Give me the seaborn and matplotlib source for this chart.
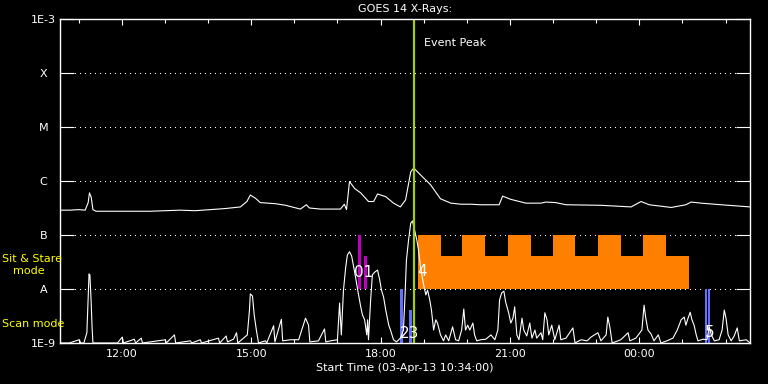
import matplotlib
matplotlib.use("Agg")
import matplotlib.pyplot as plt
import seaborn as sns

# GOES 14 long channel, log10(flux) + 9  (0 -> 1E-9 ... 6 -> 1E-3), time in UT hours
goes_time = [10.57, 10.80, 11.00, 11.15, 11.22, 11.25, 11.29, 11.33, 11.40, 11.80,
             12.20, 12.66, 13.00, 13.35, 13.70, 14.05, 14.40, 14.75, 14.90, 14.98,
             15.10, 15.21, 15.56, 15.80, 16.14, 16.28, 16.35, 16.61, 17.07, 17.16,
             17.21, 17.28, 17.40, 17.54, 17.72, 17.84, 17.93, 18.12, 18.30, 18.46,
             18.58, 18.70, 18.77, 18.93, 19.16, 19.39, 19.63, 19.86, 20.09, 20.32,
             20.75, 20.83, 21.02, 21.37, 21.72, 21.83, 22.06, 22.30, 23.11, 23.81,
             24.04, 24.23, 24.74, 25.08, 25.20, 25.43, 25.90, 26.57]
goes_level = [2.46, 2.46, 2.47, 2.46, 2.60, 2.78, 2.70, 2.47, 2.44, 2.44,
              2.44, 2.44, 2.45, 2.46, 2.45, 2.47, 2.49, 2.52, 2.62, 2.74,
              2.68, 2.60, 2.58, 2.55, 2.48, 2.56, 2.50, 2.48, 2.48, 2.57,
              2.47, 2.99, 2.86, 2.78, 2.62, 2.62, 2.76, 2.71, 2.59, 2.52,
              2.65, 3.17, 3.24, 3.11, 2.93, 2.67, 2.59, 2.57, 2.57, 2.56,
              2.56, 2.72, 2.66, 2.59, 2.59, 2.61, 2.60, 2.56, 2.55, 2.52,
              2.62, 2.56, 2.51, 2.56, 2.61, 2.59, 2.56, 2.52]

# lower trace (scaled derivative), same units
deriv_time = [10.57, 10.78, 11.01, 11.05, 11.12, 11.19, 11.22, 11.24, 11.26, 11.29,
              11.31, 11.33, 11.90, 12.01, 12.04, 12.29, 12.32, 12.45, 12.48, 13.01,
              13.03, 13.22, 13.25, 13.59, 13.62, 13.82, 13.85, 14.24, 14.27, 14.42,
              14.45, 14.59, 14.66, 14.69, 14.91, 14.96, 14.98, 15.03, 15.07, 15.12,
              15.17, 15.33, 15.36, 15.52, 15.55, 15.70, 15.73, 15.91, 16.10, 16.26,
              16.33, 16.36, 16.56, 16.70, 16.73, 16.84, 17.00, 17.05, 17.09, 17.14,
              17.19, 17.23, 17.28, 17.33, 17.37, 17.42, 17.47, 17.54, 17.58, 17.63,
              17.68, 17.70, 17.72, 17.77, 17.81, 17.86, 17.93, 17.98, 18.02, 18.07,
              18.12, 18.19, 18.23, 18.30, 18.37, 18.46, 18.53, 18.56, 18.60, 18.65,
              18.70, 18.74, 18.79, 18.84, 18.88, 18.93, 19.00, 19.05, 19.09, 19.14,
              19.18, 19.23, 19.28, 19.32, 19.39, 19.46, 19.51, 19.58, 19.67, 19.74,
              19.81, 19.88, 19.93, 19.97, 20.02, 20.07, 20.14, 20.18, 20.23, 20.32,
              20.44, 20.56, 20.65, 20.72, 20.76, 20.81, 20.86, 20.90, 20.97, 21.02,
              21.07, 21.11, 21.16, 21.21, 21.28, 21.32, 21.39, 21.46, 21.51, 21.58,
              21.62, 21.72, 21.76, 21.81, 21.86, 21.90, 21.97, 22.04, 22.14, 22.18,
              22.30, 22.46, 22.51, 22.65, 22.79, 22.88, 23.04, 23.11, 23.23, 23.27,
              23.32, 23.37, 23.57, 23.74, 23.78, 23.92, 24.06, 24.11, 24.15, 24.20,
              24.27, 24.34, 24.44, 24.50, 24.64, 24.78, 24.88, 24.97, 25.04, 25.08,
              25.13, 25.18, 25.22, 25.27, 25.32, 25.36, 25.48, 25.57, 25.62, 25.67,
              25.74, 25.85, 25.92, 25.97, 26.01, 26.06, 26.13, 26.20, 26.27, 26.32,
              26.48, 26.57]
deriv_level = [0.00, 0.00, 0.06, 0.00, 0.00, 0.19, 0.82, 1.28, 1.26, 0.74,
               0.30, 0.00, 0.00, 0.11, 0.00, 0.07, 0.00, 0.09, 0.00, 0.06,
               0.00, 0.15, 0.00, 0.04, 0.00, 0.06, 0.00, 0.09, 0.00, 0.13,
               0.02, 0.07, 0.19, 0.00, 0.15, 0.61, 0.91, 0.87, 0.52, 0.24,
               0.00, 0.04, 0.00, 0.32, 0.02, 0.44, 0.04, 0.06, 0.06, 0.46,
               0.33, 0.02, 0.04, 0.26, 0.02, 0.04, 0.06, 0.74, 0.15, 0.98,
               1.39, 1.63, 1.69, 1.61, 1.44, 1.22, 0.98, 0.67, 0.52, 0.43,
               0.15, 0.43, 0.06, 0.80, 1.26, 1.31, 1.35, 1.17, 0.98, 0.85,
               0.61, 0.33, 0.24, 0.06, 0.02, 0.09, 0.24, 0.74, 1.54, 1.91,
               2.22, 2.26, 2.09, 1.91, 1.72, 1.39, 1.07, 0.89, 0.98, 0.80,
               0.61, 0.24, 0.43, 0.37, 0.15, 0.04, 0.15, 0.04, 0.30, 0.06,
               0.04, 0.24, 0.63, 0.24, 0.33, 0.24, 0.37, 0.15, 0.04, 0.06,
               0.07, 0.15, 0.06, 0.24, 0.80, 0.93, 0.96, 0.76, 0.56, 0.37,
               0.46, 0.67, 0.15, 0.06, 0.46, 0.24, 0.13, 0.37, 0.09, 0.24,
               0.09, 0.19, 0.06, 0.56, 0.43, 0.15, 0.33, 0.06, 0.33, 0.06,
               0.09, 0.28, 0.00, 0.06, 0.04, 0.11, 0.19, 0.04, 0.15, 0.48,
               0.28, 0.00, 0.06, 0.19, 0.04, 0.09, 0.24, 0.70, 0.46, 0.24,
               0.17, 0.04, 0.15, 0.00, 0.04, 0.09, 0.24, 0.43, 0.48, 0.33,
               0.46, 0.57, 0.43, 0.33, 0.15, 0.04, 0.07, 0.06, 0.30, 0.15,
               0.04, 0.06, 0.24, 0.61, 0.46, 0.15, 0.04, 0.13, 0.28, 0.04,
               0.06, 0.00]

class_labels = ['1E-9', 'A', 'B', 'C', 'M', 'X', '1E-3']
hour_ticks = [12, 15, 18, 21, 24]
hour_labels = ['12:00', '15:00', '18:00', '21:00', '00:00']
t_start = 10 + 34 / 60
t_end = t_start + 16
peak_time = 18.77

# observation blocks: start (UT h), width (h), bottom, top
stare_start = [18.86, 18.86, 19.90, 20.95, 21.99, 23.04, 24.08]
stare_width = [6.30, 0.53, 0.53, 0.53, 0.53, 0.53, 0.53]
stare_bottom = [1.0, 1.0, 1.0, 1.0, 1.0, 1.0, 1.0]
stare_top = [1.61, 2.0, 2.0, 2.0, 2.0, 2.0, 2.0]

early_start = [17.47, 17.61]
early_width = [0.07, 0.07]
early_bottom = [1.0, 1.0]
early_top = [2.0, 1.61]

scan_start = [18.44, 18.67, 25.53, 25.60]
scan_width = [0.07, 0.05, 0.05, 0.05]
scan_bottom = [0.0, 0.0, 0.0, 0.0]
scan_top = [1.0, 0.61, 1.0, 1.0]

obs_labels = ['01', '23', '4', '5']
obs_label_time = [17.60, 18.68, 18.97, 25.64]
obs_label_level = [1.30, 0.18, 1.32, 0.19]

plt.style.use('dark_background')
plt.rcParams['font.family'] = ['DejaVu Sans']

fig = plt.figure(figsize=(7.68, 3.84), dpi=100)
ax = fig.add_axes([60 / 768, 41 / 384, 690 / 768, 324 / 384])
ax.set_facecolor('black')

# dotted class levels
for lvl in range(1, 6):
    ax.axhline(lvl, color='white', lw=0.72, ls=(0, (1, 5)), antialiased=False, zorder=1)

def draw_blocks(start, width, bottom, top, color):
    heights = [t - b for t, b in zip(top, bottom)]
    ax.bar(start, heights, width=width, bottom=bottom, align='edge',
           color=color, linewidth=0, zorder=2)

draw_blocks(stare_start, stare_width, stare_bottom, stare_top, '#ff8000')
draw_blocks(early_start, early_width, early_bottom, early_top, '#c000c0')
draw_blocks(scan_start, scan_width, scan_bottom, scan_top, '#6470ff')

sns.lineplot(x=goes_time, y=goes_level, ax=ax, color='white', lw=0.8,
             estimator=None, sort=False, zorder=3)
sns.lineplot(x=deriv_time, y=deriv_level, ax=ax, color='white', lw=0.8,
             estimator=None, sort=False, zorder=3)

ax.axvline(peak_time, color='#a0d000', lw=1.6, zorder=4)
ax.text(peak_time + 0.23, 5.56, 'Event Peak', color='white', fontsize=8,
        va='center', ha='left', zorder=5)

for lab, t, v in zip(obs_labels, obs_label_time, obs_label_level):
    ax.text(t, v, lab, color='white', fontsize=11,
            ha='center', va='center', zorder=5)

ax.set_xlim(t_start, t_end)
ax.set_ylim(0, 6)
ax.set_yticks(range(7))
ax.set_yticklabels(class_labels, fontsize=8, color='white')
for lab in ax.get_yticklabels():
    lab.set_horizontalalignment('center')
ax.set_xticks(hour_ticks)
ax.set_xticklabels(hour_labels, fontsize=8, color='white')
ax.set_xticks(range(11, 27), minor=True)
ax.tick_params(axis='y', which='major', direction='in', length=10, width=0.8,
               left=True, right=True, pad=12)
ax.tick_params(axis='x', which='major', direction='in', length=4.3, width=0.8,
               top=True, bottom=True, pad=4)
ax.tick_params(axis='x', which='minor', direction='in', length=2.6, width=0.8,
               top=True, bottom=True)
ax.set_xlabel('')
ax.set_ylabel('')
for sp in ax.spines.values():
    sp.set_color('white')
    sp.set_linewidth(1.0)
    sp.set_zorder(6)

fig.text(405 / 768, 1 - 9 / 384, 'GOES 14 X-Rays:', color='white', fontsize=8,
         ha='center', va='center')
fig.text(405 / 768, 1 - 368 / 384, 'Start Time (03-Apr-13 10:34:00)', color='white',
         fontsize=8, ha='center', va='center')
fig.text(2 / 768, 1 - 259 / 384, 'Sit & Stare', color='#ffff00', fontsize=8,
         ha='left', va='center')
fig.text(13 / 768, 1 - 271 / 384, 'mode', color='#ffff00', fontsize=8,
         ha='left', va='center')
fig.text(2 / 768, 1 - 324 / 384, 'Scan mode', color='#ffff00', fontsize=8,
         ha='left', va='center')

fig.savefig('out.png', dpi=100, facecolor='black')
